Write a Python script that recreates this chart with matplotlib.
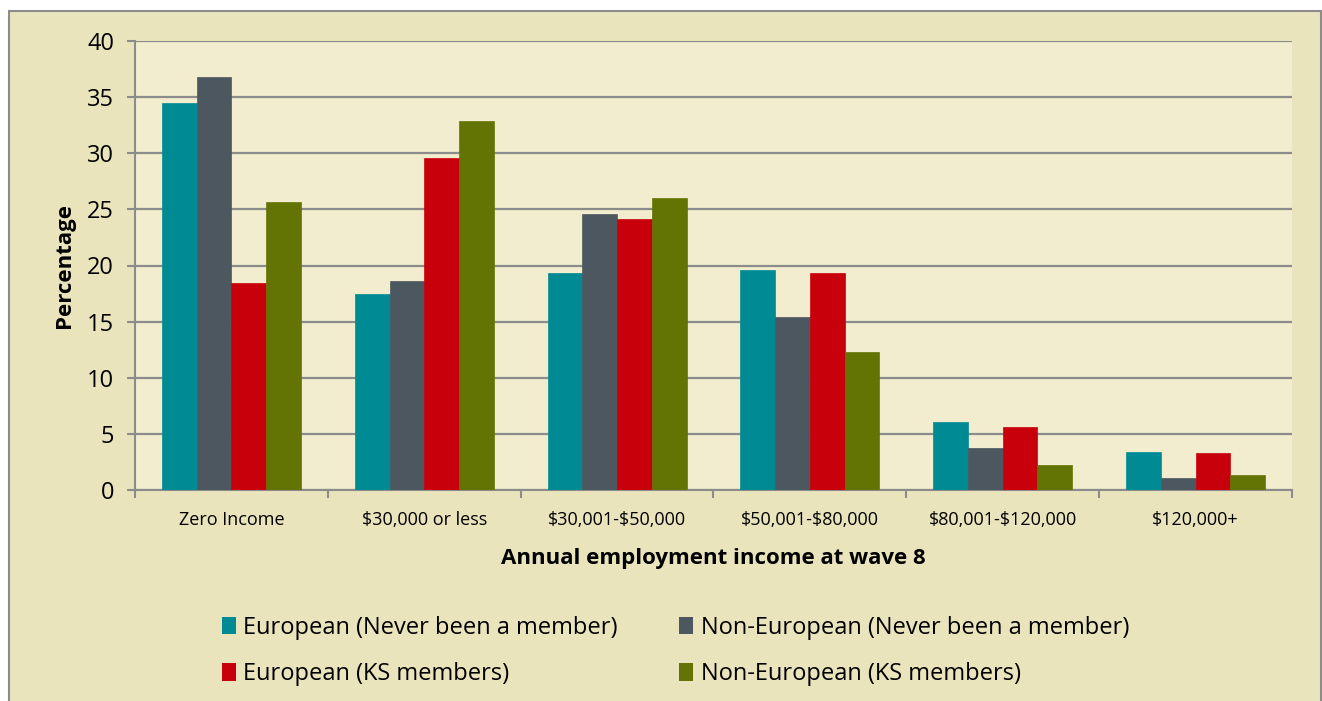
import matplotlib.pyplot as plt
import numpy as np
from matplotlib.patches import Rectangle, Patch

# income bands and the share of each group (%)
categories = ["Zero Income", "$30,000 or less", "$30,001-$50,000",
              "$50,001-$80,000", "$80,001-$120,000", "$120,000+"]
eu_never = [34.5, 17.5, 19.3, 19.6, 6.1, 3.4]
noneu_never = [36.8, 18.6, 24.6, 15.4, 3.7, 1.1]
eu_ks = [18.4, 29.6, 24.1, 19.3, 5.6, 3.3]
noneu_ks = [25.7, 32.9, 26.0, 12.3, 2.2, 1.3]

series = [
    ("European (Never been a member)", eu_never, "#008B94"),
    ("Non-European (Never been a member)", noneu_never, "#4D5760"),
    ("European (KS members)", eu_ks, "#C8000B"),
    ("Non-European (KS members)", noneu_ks, "#647404"),
]

plt.rcParams['font.family'] = ['Open Sans', 'DejaVu Sans']
plt.rcParams['text.parse_math'] = False

fig = plt.figure(figsize=(13.22, 7.01), dpi=100)
fig.patch.set_facecolor("white")

# outer chart frame
frame = Rectangle((9 / 1322, -0.01), 1312 / 1322, 1 - 11 / 701 + 0.01,
                  transform=fig.transFigure, facecolor="#EAE4BC",
                  edgecolor="#8C8C8C", linewidth=1.5, zorder=-1)
fig.patches.append(frame)

ax = fig.add_axes([135 / 1322, 1 - 490 / 701, 1157 / 1322, 449 / 701])
ax.set_facecolor("#F1EDCE")

x = np.arange(len(categories))
w = 0.18
handles = []
for i, (name, vals, col) in enumerate(series):
    ax.bar(x + (i - 1.5) * w, vals, width=w, color=col,
           edgecolor=col, linewidth=0.5, zorder=3)
    handles.append(Patch(facecolor=col, label=name))

ax.set_xlim(-0.5, len(categories) - 0.5)
ax.set_ylim(0, 40)
ax.set_yticks(range(0, 41, 5))
ax.yaxis.grid(True, color="#8C8C8C", linewidth=1.6, zorder=1)
ax.set_axisbelow(True)

ax.set_xticks(x)
ax.set_xticklabels(categories, fontsize=13)
ax.set_xticks(np.arange(-0.5, len(categories)), minor=True)
ax.tick_params(axis="x", which="major", length=0, pad=15)
ax.tick_params(axis="x", which="minor", length=6, width=1.5,
               color="#8C8C8C", direction="out")
ax.tick_params(axis="y", labelsize=17, length=6, width=1.5,
               color="#8C8C8C", direction="out", pad=9)

for side in ["top", "right"]:
    ax.spines[side].set_visible(False)
for side in ["left", "bottom"]:
    ax.spines[side].set_color("#8C8C8C")
    ax.spines[side].set_linewidth(1.5)

ax.set_xlabel("Annual employment income at wave 8", fontsize=16,
              fontweight="bold", labelpad=14)
ax.set_ylabel("Percentage", fontsize=16, fontweight="bold", labelpad=9)

# legend order puts the never-member groups on the first row
order = [0, 2, 1, 3]
fig.legend([handles[i] for i in order], [handles[i].get_label() for i in order],
           ncol=2, loc="center", bbox_to_anchor=(0.511, 1 - 651 / 701),
           frameon=False, fontsize=17, handlelength=0.6, handleheight=0.75,
           handletextpad=0.3, columnspacing=2.6, labelspacing=0.95)

fig.savefig("out.png", dpi=100)
